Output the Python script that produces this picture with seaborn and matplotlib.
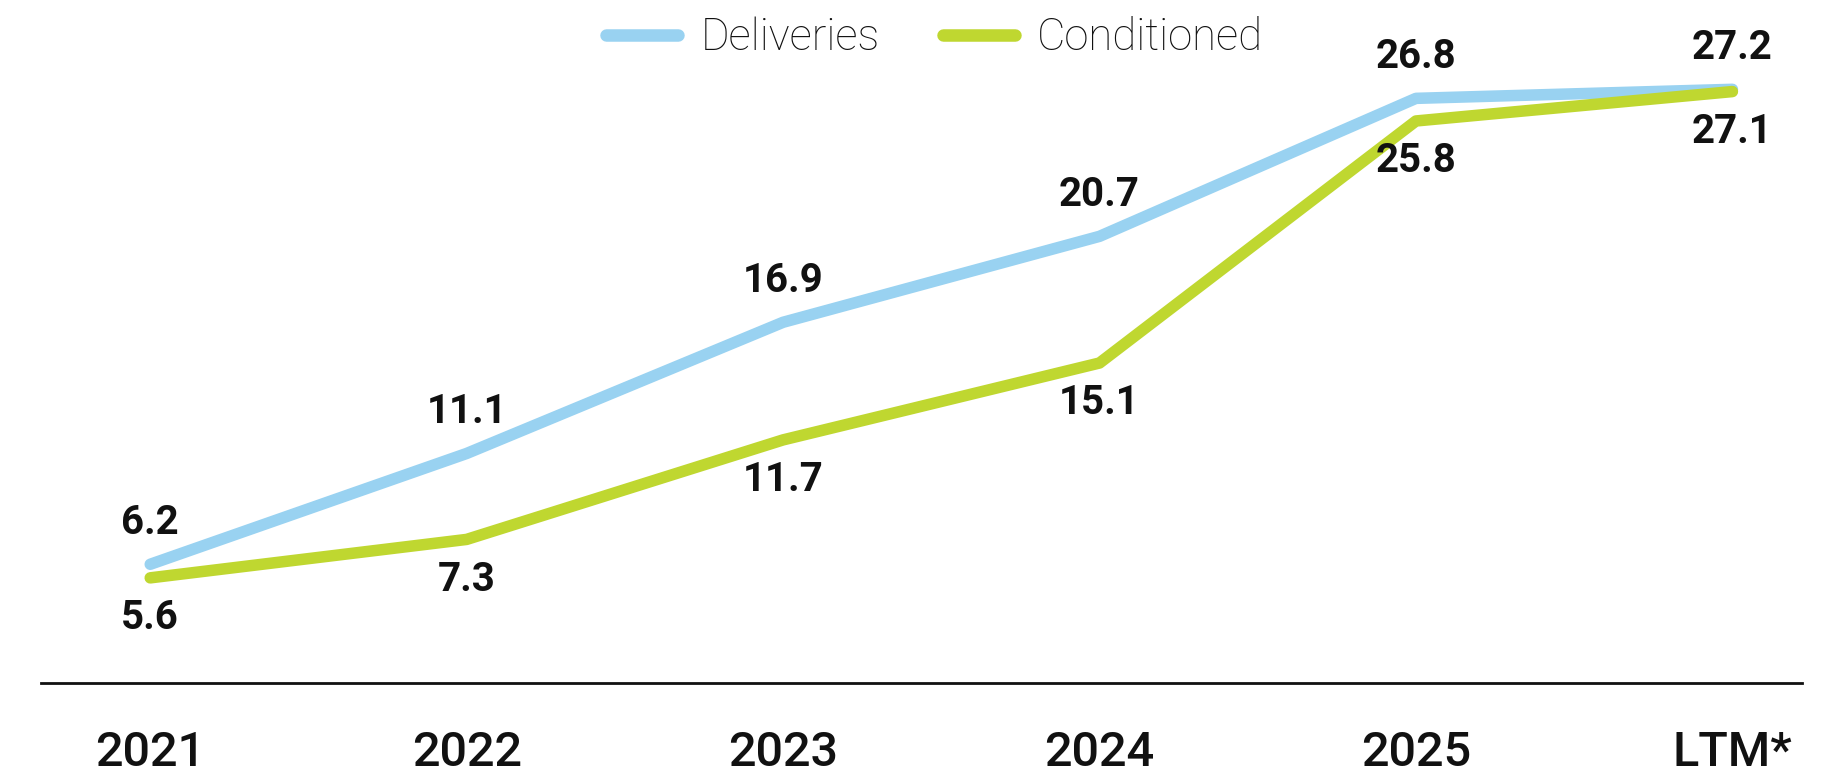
import matplotlib
matplotlib.use("Agg")
import matplotlib.pyplot as plt
import seaborn as sns
import pandas as pd

categories = ["2021", "2022", "2023", "2024", "2025", "LTM*"]
deliveries = [6.2, 11.1, 16.9, 20.7, 26.8, 27.2]
conditioned = [5.6, 7.3, 11.7, 15.1, 25.8, 27.1]
series_names = ["Deliveries", "Conditioned"]

BLUE = "#99D2F1"
GREEN = "#BFD730"

sns.set_theme(style="white")
plt.rcParams["font.family"] = ["Roboto", "DejaVu Sans"]

df = pd.DataFrame({
    "period": categories * 2,
    "x": list(range(len(categories))) * 2,
    "value": deliveries + conditioned,
    "series": [series_names[0]] * len(categories) + [series_names[1]] * len(categories),
})

fig = plt.figure(figsize=(18.41, 7.76), dpi=100)
ax = fig.add_axes([0.0223, 0.1198, 0.9567, 0.803])

sns.lineplot(data=df, x="x", y="value", hue="series", palette=[BLUE, GREEN],
             linewidth=8.3, ax=ax, legend=True, sort=False)
for line in ax.lines:
    line.set_solid_capstyle("round")
    line.set_solid_joinstyle("round")

ax.set_xlim(-0.345, len(categories) - 1 + 0.221)
ax.set_ylim(0.95, 28.5)

ax.set_xticks(range(len(categories)))
ax.set_xticklabels(categories, fontsize=35, fontweight="medium", color="#111111")
ax.tick_params(axis="x", length=0, pad=34)
ax.set_yticks([])
ax.set_xlabel("")
ax.set_ylabel("")

for s in ["top", "right", "left"]:
    ax.spines[s].set_visible(False)
ax.spines["bottom"].set_color("#111111")
ax.spines["bottom"].set_linewidth(2)

for i, v in enumerate(deliveries):
    ax.annotate(f"{v:.1f}", (i, v), xytext=(0, 30), textcoords="offset points",
                ha="center", va="center", fontsize=29, fontweight="bold", color="#111111")
for i, v in enumerate(conditioned):
    ax.annotate(f"{v:.1f}", (i, v), xytext=(0, -29), textcoords="offset points",
                ha="center", va="center", fontsize=29, fontweight="bold", color="#111111")

handles, labels = ax.get_legend_handles_labels()
ax.get_legend().remove()
for h in handles:
    h.set_linewidth(9)
    h.set_solid_capstyle("round")
leg = fig.legend(handles, labels, loc="center", bbox_to_anchor=(0.5077, 1 - 38 / 776),
                 ncol=2, frameon=False, handlelength=1.65,
                 handletextpad=0.5, columnspacing=1.45,
                 prop={"size": 31.5, "weight": "light"})
for t in leg.get_texts():
    t.set_color("#111111")

fig.savefig("out.png", dpi=100, facecolor="white")
